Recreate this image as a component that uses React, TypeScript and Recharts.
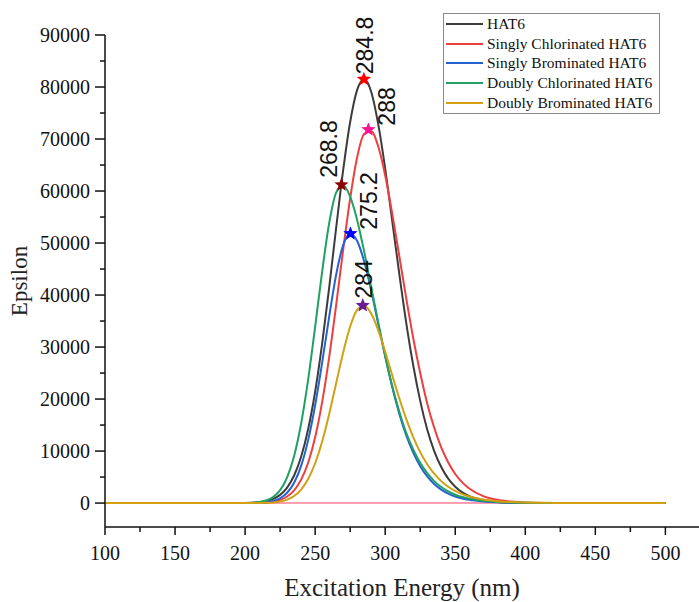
import { ComposedChart, Line, Scatter, XAxis, YAxis, Legend } from 'recharts'

// wavelength grid (nm)
const wavelengths = [
  100, 200, 210, 215, 220, 225, 230, 235, 240, 245, 250, 255, 260, 265, 270, 275, 280, 285, 290, 295,
  300, 305, 310, 315, 320, 325, 330, 335, 340, 345, 350, 355, 360, 370, 380, 390, 400, 420, 450, 500,
]

const hat6 = [
  0, 30, 170, 380, 800, 1580, 2980, 5300, 8900, 14200, 21400, 30640, 41400, 52900, 64000, 73270, 79450, 81500, 79100, 72900,
  64300, 54300, 44200, 34700, 26500, 19650, 14150, 10000, 6940, 4710, 3150, 2070, 1340, 550, 220, 83, 32, 3, 0, 0,
]
const singlyChlorinated = [
  0, 5, 50, 120, 280, 610, 1260, 2450, 4500, 7760, 12650, 19400, 28000, 38050, 48700, 58600, 66500, 71000, 71500, 68600,
  63000, 55700, 47600, 39400, 31750, 25000, 19150, 14470, 10700, 7810, 5600, 3980, 2800, 1340, 620, 285, 127, 25, 0, 0,
]
const singlyBrominated = [
  0, 5, 60, 160, 400, 930, 1990, 3920, 7150, 12100, 18800, 27000, 35800, 43900, 49600, 51800, 50400, 46450, 40900, 34500,
  28200, 22350, 17250, 13050, 9710, 7100, 5120, 3670, 2600, 1820, 1270, 890, 615, 293, 140, 67, 33, 8, 0, 0,
]
const doublyChlorinated = [
  0, 23, 190, 485, 1140, 2480, 4950, 9060, 15300, 23750, 33900, 44500, 53800, 59700, 61100, 58900, 54400, 48350, 41550, 34750,
  28270, 22500, 17650, 13500, 10300, 7730, 5740, 4220, 3080, 2230, 1610, 1160, 840, 430, 220, 110, 57, 15, 0, 0,
]
const doublyBrominated = [
  0, 2, 20, 52, 130, 305, 670, 1360, 2600, 4620, 7660, 11850, 17100, 23050, 28950, 33950, 37150, 38000, 36450, 33250,
  29100, 24600, 20200, 16200, 12700, 9800, 7480, 5650, 4220, 3130, 2330, 1710, 1260, 680, 370, 200, 110, 35, 0, 0,
]

const baselineX = [100, 500]
const baselineY = [0, 0]

const peakWavelengths = [284.8, 288, 268.8, 275.2, 284]
const peakEpsilons = [81500, 71800, 61200, 51800, 38000]
const peakLabels = ['284.8', '288', '268.8', '275.2', '284']

const seriesNames = [
  'HAT6',
  'Singly Chlorinated HAT6',
  'Singly Brominated HAT6',
  'Doubly Chlorinated HAT6',
  'Doubly Brominated HAT6',
]
const seriesKeys = ['hat6', 'sCl', 'sBr', 'dCl', 'dBr']

const xTicks = [100, 125, 150, 175, 200, 225, 250, 275, 300, 325, 350, 375, 400, 425, 450, 475, 500]
const yTicks = [
  0, 5000, 10000, 15000, 20000, 25000, 30000, 35000, 40000, 45000,
  50000, 55000, 60000, 65000, 70000, 75000, 80000, 85000, 90000,
]

// styles
const seriesColors = ['#3c3c3c', '#ef3e3e', '#2462d2', '#21a064', '#d2a012']
const starColors = ['#ff0000', '#ff1493', '#8b0000', '#0000ff', '#6a1b9a']
const labelOffsets = [
  [1, -5],
  [19, -4],
  [-12, -7],
  [19, -4],
  [1, -7],
]
const SERIF = '"Liberation Serif", "Times New Roman", serif'
const SANS = '"Liberation Sans", Arial, sans-serif'

const rows = wavelengths.map((w, i) => ({
  w,
  hat6: hat6[i],
  sCl: singlyChlorinated[i],
  sBr: singlyBrominated[i],
  dCl: doublyChlorinated[i],
  dBr: doublyBrominated[i],
}))
const baselineRows = baselineX.map((w, i) => ({ w, base: baselineY[i] }))
const peakRows = peakWavelengths.map((w, i) => ({ w, eps: peakEpsilons[i], idx: i }))

const starPoints = (cx: number, cy: number, R: number, r: number) =>
  Array.from({ length: 10 }, (_, i) => {
    const a = -Math.PI / 2 + (i * Math.PI) / 5
    const rad = i % 2 === 0 ? R : r
    return `${cx + rad * Math.cos(a)},${cy + rad * Math.sin(a)}`
  }).join(' ')

const PeakMark = (props: any) => {
  const { cx, cy, payload } = props
  const i = payload.idx
  const [dx, dy] = labelOffsets[i]
  const tx = cx + dx
  const ty = cy + dy
  return (
    <g>
      <polygon points={starPoints(cx, cy, 7.5, 3.2)} fill={starColors[i]} />
      <text
        x={tx}
        y={ty}
        transform={`rotate(-90 ${tx} ${ty})`}
        textAnchor="start"
        dominantBaseline="central"
        fontFamily={SANS}
        fontSize={23}
        fill="#111"
      >
        {peakLabels[i]}
      </text>
    </g>
  )
}

const XTick = (props: any) => {
  const { x, y, payload } = props
  const major = payload.value % 50 === 0
  return (
    <g>
      <line x1={x} x2={x} y1={y} y2={y + (major ? 8 : 5)} stroke="#111" strokeWidth={1.5} />
      {major && (
        <text x={x} y={y + 33} textAnchor="middle" fontFamily={SERIF} fontSize={20} fill="#111">
          {payload.value}
        </text>
      )}
    </g>
  )
}

const YTick = (props: any) => {
  const { x, y, payload } = props
  const major = payload.value % 10000 === 0
  return (
    <g>
      <line x1={x} x2={x - (major ? 10 : 5)} y1={y} y2={y} stroke="#111" strokeWidth={1.5} />
      {major && (
        <text x={x - 15} y={y} dy="0.35em" textAnchor="end" fontFamily={SERIF} fontSize={20} fill="#111">
          {payload.value}
        </text>
      )}
    </g>
  )
}

const renderLegend = () => (
  <div
    style={{
      border: '1px solid #8a8a8a',
      background: '#fff',
      padding: '0 2px',
      width: 211,
      height: 99,
      boxSizing: 'content-box',
    }}
  >
    {seriesNames.map((name, i) => (
      <div key={name} style={{ display: 'flex', alignItems: 'center', height: 19.8 }}>
        <span
          style={{
            display: 'inline-block',
            width: 37,
            borderTop: `2.5px solid ${seriesColors[i]}`,
            marginRight: 4,
          }}
        />
        <span style={{ fontFamily: SERIF, fontSize: 15.5, color: '#111', whiteSpace: 'nowrap' }}>{name}</span>
      </div>
    ))}
  </div>
)

export default function App() {
  return (
    <div style={{ position: 'absolute', left: 0, top: 0, background: '#fff' }}>
      <ComposedChart width={699} height={602} data={rows} margin={{ top: 35, right: 0, bottom: 0, left: 0 }}>
        <XAxis
          dataKey="w"
          type="number"
          domain={[100, 524]}
          ticks={xTicks}
          interval={0}
          tick={<XTick />}
          tickLine={false}
          tickSize={0}
          tickMargin={0}
          height={75}
          axisLine={{ stroke: '#111', strokeWidth: 1.5 }}
          label={{
            value: 'Excitation Energy (nm)',
            position: 'insideBottom',
            offset: 6,
            style: { fontFamily: SERIF, fontSize: 25, fill: '#222' },
          }}
        />
        <YAxis
          type="number"
          domain={[-4600, 90000]}
          ticks={yTicks}
          interval={0}
          tick={<YTick />}
          tickLine={false}
          tickSize={0}
          tickMargin={0}
          width={105}
          axisLine={{ stroke: '#111', strokeWidth: 1.5 }}
          label={{
            value: 'Epsilon',
            angle: -90,
            position: 'insideLeft',
            offset: 19,
            style: { fontFamily: SERIF, fontSize: 23, fill: '#222', textAnchor: 'middle' },
          }}
        />
        <Legend
          content={renderLegend}
          layout="vertical"
          align="center"
          verticalAlign="middle"
          wrapperStyle={{ left: 443, top: 13, width: 216 }}
        />
        <Line
          data={baselineRows}
          dataKey="base"
          stroke="#ff9fb0"
          strokeWidth={2}
          dot={false}
          activeDot={false}
          legendType="none"
          isAnimationActive={false}
        />
        {seriesKeys.map((k, i) => (
          <Line
            key={k}
            dataKey={k}
            name={seriesNames[i]}
            type="monotone"
            stroke={seriesColors[i]}
            strokeWidth={2}
            dot={false}
            activeDot={false}
            isAnimationActive={false}
          />
        ))}
        <Scatter data={peakRows} dataKey="eps" shape={<PeakMark />} legendType="none" isAnimationActive={false} />
      </ComposedChart>
    </div>
  )
}
